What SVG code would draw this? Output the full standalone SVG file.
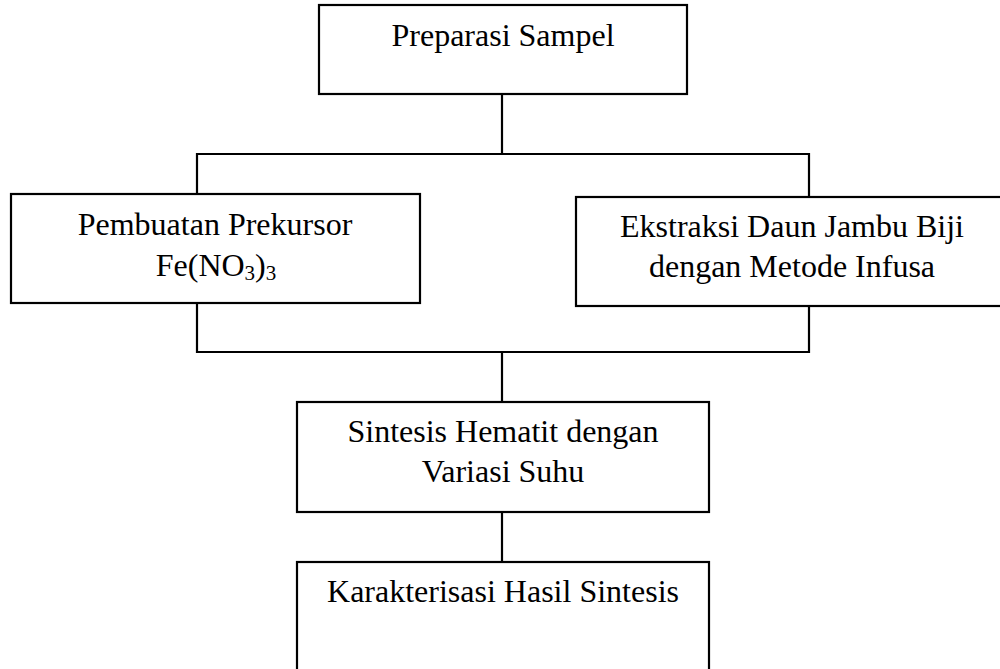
<svg xmlns="http://www.w3.org/2000/svg" width="1000" height="669" viewBox="0 0 1000 669">
<style>
.box{fill:#fff;stroke:#000;stroke-width:2.2}
.con{fill:none;stroke:#000;stroke-width:2.2}
text{font-family:"Liberation Serif","Times New Roman",serif;font-size:32px;fill:#000;text-anchor:middle}
.sub{font-size:21px}
</style>
<rect width="1000" height="669" fill="#fff"/>
<g id="connectors">
<line class="con" x1="502" y1="94" x2="502" y2="154"/>
<polyline class="con" points="197,194 197,154 809,154 809,197"/>
<polyline class="con" points="197,303 197,352 809,352 809,306"/>
<line class="con" x1="502" y1="352" x2="502" y2="402"/>
<line class="con" x1="502" y1="512" x2="502" y2="562"/>
</g>
<g id="node-preparasi">
<rect class="box" x="319" y="5" width="368" height="89"/>
<text x="503" y="46">Preparasi Sampel</text>
</g>
<g id="node-prekursor">
<rect class="box" x="11" y="194" width="409" height="109"/>
<text x="215" y="235">Pembuatan Prekursor</text>
<text x="216" y="276">Fe(NO<tspan class="sub" dy="4">3</tspan><tspan dy="-4">)</tspan><tspan class="sub" dy="4">3</tspan></text>
</g>
<g id="node-ekstraksi">
<rect class="box" x="576" y="197" width="433" height="109"/>
<text x="792" y="237">Ekstraksi Daun Jambu Biji</text>
<text x="792" y="277">dengan Metode Infusa</text>
</g>
<g id="node-sintesis">
<rect class="box" x="297" y="402" width="412" height="110"/>
<text x="503" y="442">Sintesis Hematit dengan</text>
<text x="503" y="482">Variasi Suhu</text>
</g>
<g id="node-karakterisasi">
<rect class="box" x="297" y="562" width="412" height="120"/>
<text x="503" y="602">Karakterisasi Hasil Sintesis</text>
</g>
</svg>
